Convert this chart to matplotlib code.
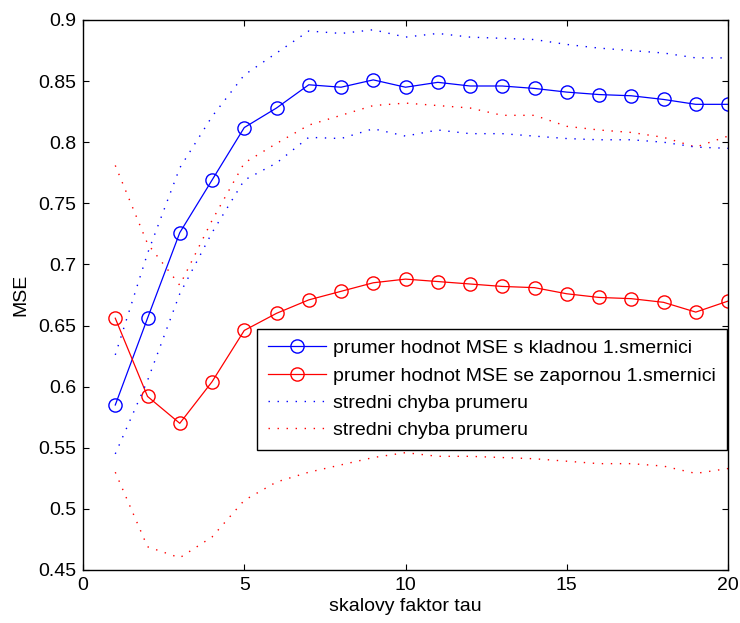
import matplotlib.pyplot as plt

plt.rcParams['font.family'] = ['Liberation Sans', 'DejaVu Sans']

# skalovy faktor tau
tau = list(range(1, 21))

# prumer MSE s kladnou 1. smernici + meze stredni chyby
mse_kladna = [0.585, 0.656, 0.726, 0.769, 0.812, 0.828, 0.847, 0.845, 0.851, 0.845,
              0.849, 0.846, 0.846, 0.844, 0.841, 0.839, 0.838, 0.835, 0.831, 0.831]
kladna_horni = [0.626, 0.709, 0.779, 0.821, 0.855, 0.873, 0.891, 0.889, 0.892, 0.886,
                0.889, 0.886, 0.885, 0.884, 0.880, 0.877, 0.875, 0.873, 0.869, 0.869]
kladna_dolni = [0.545, 0.605, 0.676, 0.726, 0.769, 0.783, 0.804, 0.803, 0.811, 0.805,
                0.810, 0.807, 0.807, 0.805, 0.803, 0.802, 0.802, 0.800, 0.796, 0.795]

# prumer MSE se zapornou 1. smernici + meze stredni chyby
mse_zaporna = [0.656, 0.592, 0.570, 0.604, 0.646, 0.660, 0.671, 0.678, 0.685, 0.688,
               0.686, 0.684, 0.682, 0.681, 0.676, 0.673, 0.672, 0.669, 0.661, 0.670]
zaporna_horni = [0.781, 0.717, 0.683, 0.736, 0.783, 0.799, 0.814, 0.822, 0.830, 0.832,
                 0.830, 0.828, 0.822, 0.822, 0.813, 0.810, 0.808, 0.804, 0.796, 0.805]
zaporna_dolni = [0.530, 0.469, 0.460, 0.477, 0.507, 0.522, 0.530, 0.536, 0.542, 0.546,
                 0.543, 0.543, 0.542, 0.541, 0.539, 0.537, 0.537, 0.535, 0.529, 0.533]

yticks = [0.45, 0.5, 0.55, 0.6, 0.65, 0.7, 0.75, 0.8, 0.85, 0.9]
ytick_labels = ['0.45', '0.5', '0.55', '0.6', '0.65', '0.7', '0.75', '0.8', '0.85', '0.9']
xticks = [0, 5, 10, 15, 20]

fig = plt.figure(figsize=(7.4, 6.23), dpi=100)
ax = fig.add_axes([0.1122, 0.0851, 0.8716, 0.8828])

dot = (0, (1, 5.5))
ax.plot(tau, mse_kladna, '-o', color='blue', lw=0.9, ms=9.5, mfc='none', mew=1.0,
        label='prumer hodnot MSE s kladnou 1.smernici')
ax.plot(tau, mse_zaporna, '-o', color='red', lw=0.9, ms=9.5, mfc='none', mew=1.0,
        label='prumer hodnot MSE se zapornou 1.smernici')
ax.plot(tau, kladna_horni, color='blue', ls=dot, lw=1.0, label='stredni chyba prumeru')
ax.plot(tau, zaporna_horni, color='red', ls=dot, lw=1.0, label='stredni chyba prumeru')
ax.plot(tau, kladna_dolni, color='blue', ls=dot, lw=1.0)
ax.plot(tau, zaporna_dolni, color='red', ls=dot, lw=1.0)

ax.set_xlim(0, 20)
ax.set_ylim(0.45, 0.9)
ax.set_xticks(xticks)
ax.set_yticks(yticks)
ax.set_yticklabels(ytick_labels)
ax.tick_params(direction='in', length=4, width=0.8, labelsize=14,
               top=True, right=True, pad=5)
for s in ax.spines.values():
    s.set_linewidth(1.0)

ax.set_xlabel('skalovy faktor tau', fontsize=14, labelpad=3)
ax.set_ylabel('MSE', fontsize=14, labelpad=6)

leg = ax.legend(loc='upper left', bbox_to_anchor=(0.2698, 0.4382), borderaxespad=0,
                fontsize=14, fancybox=False, edgecolor='black', framealpha=1,
                handlelength=3.0, handletextpad=0.36, labelspacing=0.5,
                borderpad=0.55)
leg.get_frame().set_linewidth(1.0)

plt.savefig('out.png', dpi=100)
